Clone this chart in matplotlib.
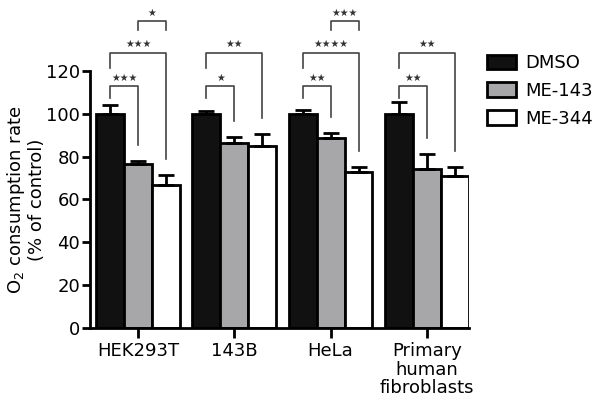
import numpy as np
import matplotlib.pyplot as plt
from matplotlib.patches import Patch

plt.rcParams['font.family'] = ['DejaVu Sans']

cell_lines = ['HEK293T', '143B', 'HeLa', 'Primary\nhuman\nfibroblasts']
treatments = ['DMSO', 'ME-143', 'ME-344']
dmso = [100.0, 100.0, 100.0, 100.0]
me143 = [76.7, 86.2, 88.7, 74.3]
me344 = [66.5, 85.1, 73.0, 70.8]
dmso_err = [3.8, 1.4, 1.9, 5.6]
me143_err = [1.1, 2.8, 2.3, 6.7]
me344_err = [5.0, 5.4, 2.3, 4.2]

# significance: (group, bar a, bar b, label)
comparisons = [
    (0, 0, 1, '★★★'), (0, 0, 2, '★★★'), (0, 1, 2, '★'),
    (1, 0, 1, '★'), (1, 0, 2, '★★'),
    (2, 0, 1, '★★'), (2, 0, 2, '★★★★'), (2, 1, 2, '★★★'),
    (3, 0, 1, '★★'), (3, 0, 2, '★★'),
]

colors = ['#111111', '#a7a6a9', 'white']
means = [dmso, me143, me344]
errs = [dmso_err, me143_err, me344_err]

fig = plt.figure(figsize=(6, 4.09), dpi=100)
ax = fig.add_axes([0.15, 0.198, 0.632, 0.629])

x = np.arange(len(cell_lines))
w = 0.29
for i in range(3):
    ax.bar(x + (i - 1) * w, means[i], w, color=colors[i], edgecolor='black',
           linewidth=2, label=treatments[i], zorder=2,
           yerr=[np.zeros(len(x)), errs[i]],
           error_kw=dict(ecolor='black', elinewidth=2, capsize=5.5, capthick=2))

ax.set_xlim(-0.5, 3.44)
ax.set_ylim(0, 120)
ax.set_yticks(np.arange(0, 121, 20))
ax.set_xticks(x)
ax.set_xticklabels(cell_lines, fontsize=13, linespacing=1.05)
ax.tick_params(axis='y', labelsize=13, width=2, length=6, pad=1)
ax.tick_params(axis='x', width=2, length=7, pad=3)
for s in ['top', 'right']:
    ax.spines[s].set_visible(False)
for s in ['left', 'bottom']:
    ax.spines[s].set_linewidth(2)
ax.set_ylabel('O$_2$ consumption rate\n(% of control)', fontsize=13,
              linespacing=1.1, labelpad=0)

# brackets
levels = {(0, 1): 113, (0, 2): 128.5, (1, 2): 143}
for g, a, b, lab in comparisons:
    top = levels[(a, b)]
    xa = g + (a - 1) * w
    xb = g + (b - 1) * w
    if (a, b) == (1, 2):
        ya, yb = top - 4, top - 4
    else:
        ya = top - (5.5 if b == 1 else 7)
        yb = means[b][g] + errs[b][g] + 7.5
    ax.plot([xa, xa, xb, xb], [ya, top, top, yb], color='#444444', lw=1.2,
            clip_on=False, zorder=3)
    ax.text((xa + xb) / 2, top + 1.5, lab, ha='center', va='bottom',
            fontsize=7, color='#333333')

handles = [Patch(facecolor=c, edgecolor='black', linewidth=2) for c in colors]
fig.legend(handles, treatments, loc='upper left', bbox_to_anchor=(0.812, 0.868),
           frameon=False, fontsize=13, handlelength=1.6, handleheight=0.85,
           labelspacing=0.55, handletextpad=0.5, borderpad=0, borderaxespad=0)

fig.savefig('out.png', dpi=100)
